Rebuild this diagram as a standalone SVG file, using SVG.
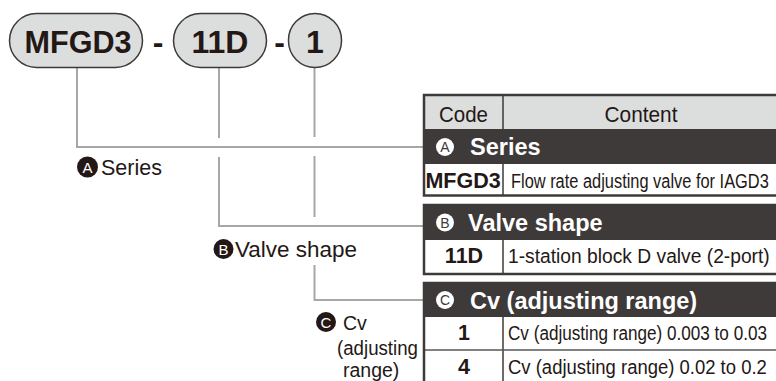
<svg xmlns="http://www.w3.org/2000/svg" width="776" height="381" viewBox="0 0 776 381">
<style>
.pill{fill:#dcdddd;stroke:#3e3a39;stroke-width:1.5}
.pt{font-family:"Liberation Sans",Arial,sans-serif;font-weight:bold;font-size:32px;fill:#231815;text-anchor:middle}
.con{fill:none;stroke:#a7a7a7;stroke-width:2}
.lbl{font-family:"Liberation Sans",Arial,sans-serif;font-size:21.5px;fill:#231815}
.lbl2{font-family:"Liberation Sans",Arial,sans-serif;font-size:19.5px;fill:#231815}
.dc{fill:#231815}
.dl{font-family:"Liberation Sans",Arial,sans-serif;font-size:15px;fill:#fff;text-anchor:middle}
.wc{fill:#fff}
.wl{font-family:"Liberation Sans",Arial,sans-serif;font-size:14px;fill:#3e3a39;text-anchor:middle}
.hd{fill:#dcdddd}
.band{fill:#3e3a39}
.row{fill:#fff}
.border{fill:none;stroke:#3e3a39;stroke-width:2.5}
.div{stroke:#3e3a39;stroke-width:1.5}
.rl{stroke:#595757;stroke-width:1.5}
.ht{font-family:"Liberation Sans",Arial,sans-serif;font-size:22.5px;fill:#231815;text-anchor:middle}
.bt{font-family:"Liberation Sans",Arial,sans-serif;font-size:23.5px;font-weight:bold;fill:#fff}
.ct{font-family:"Liberation Sans",Arial,sans-serif;font-size:21.5px;font-weight:bold;fill:#231815;text-anchor:middle}
.tt{font-family:"Liberation Sans",Arial,sans-serif;font-size:21px;fill:#231815}
</style>

<g id="connectors">
<path class="con" d="M77,68 V147 H423"/>
<path class="con" d="M219,68 V138 M219,157 V226 H423"/>
<path class="con" d="M314.5,68 V137 M314.5,156 V217 M314.5,265 V300 H423"/>
</g>

<g id="node-mfgd3">
<rect class="pill" x="9.5" y="13.5" width="133" height="54" rx="27"/>
<text class="pt" x="78" y="53" textLength="107" lengthAdjust="spacingAndGlyphs">MFGD3</text>
</g>
<g id="dash-1"><text class="pt" x="158" y="53">-</text></g>
<g id="node-11d">
<rect class="pill" x="173.5" y="13.5" width="93" height="54" rx="27"/>
<text class="pt" x="220" y="53">11D</text>
</g>
<g id="dash-2"><text class="pt" x="279.5" y="53">-</text></g>
<g id="node-1">
<rect class="pill" x="288.5" y="13.5" width="53" height="54" rx="26.5"/>
<text class="pt" x="315" y="53">1</text>
</g>

<g id="label-a">
<circle class="dc" cx="87.5" cy="167" r="10.5"/>
<text class="dl" x="87.5" y="172.5">A</text>
<text class="lbl" x="101" y="175">Series</text>
</g>
<g id="label-b">
<circle class="dc" cx="223.5" cy="249" r="10"/>
<text class="dl" x="223.5" y="254.5">B</text>
<text class="lbl" x="235" y="257" textLength="122" lengthAdjust="spacingAndGlyphs">Valve shape</text>
</g>
<g id="label-c">
<circle class="dc" cx="326" cy="322" r="10"/>
<text class="dl" x="326" y="327.5">C</text>
<text class="lbl2" x="343" y="330">Cv</text>
<text class="lbl2" x="337" y="355" textLength="81" lengthAdjust="spacingAndGlyphs">(adjusting</text>
<text class="lbl2" x="343" y="377">range)</text>
</g>

<g id="table-a">
<rect class="hd" x="424" y="95" width="356" height="34"/>
<rect class="band" x="424" y="129" width="356" height="35"/>
<rect class="row" x="424" y="164" width="356" height="31"/>
<line class="div" x1="503" y1="95" x2="503" y2="129"/>
<line class="div" x1="503" y1="164" x2="503" y2="195"/>
<rect class="border" x="424" y="95" width="360" height="100.5"/>
<text class="ht" transform="translate(463.5 122) scale(0.91 1)">Code</text>
<text class="ht" transform="translate(641 122) scale(0.926 1)">Content</text>
<circle class="wc" cx="445" cy="147" r="9"/>
<text class="wl" x="445" y="152">A</text>
<text class="bt" x="470" y="155">Series</text>
<text class="ct" x="463" y="187.5">MFGD3</text>
<text class="tt" transform="translate(511 187.5) scale(0.781 1)">Flow rate adjusting valve for IAGD3</text>
</g>

<g id="table-b">
<rect class="band" x="424" y="205" width="356" height="35"/>
<rect class="row" x="424" y="240" width="356" height="34"/>
<line class="div" x1="503" y1="240" x2="503" y2="274"/>
<rect class="border" x="424" y="205" width="360" height="69"/>
<circle class="wc" cx="445" cy="222.5" r="9"/>
<text class="wl" x="445" y="227.5">B</text>
<text class="bt" x="468" y="231">Valve shape</text>
<text class="ct" x="464" y="262.5">11D</text>
<text class="tt" transform="translate(508 262.5) scale(0.916 1)">1-station block D valve (2-port)</text>
</g>

<g id="table-c">
<rect class="band" x="424" y="283" width="356" height="34"/>
<rect class="row" x="424" y="317" width="356" height="70"/>
<line class="div" x1="503" y1="317" x2="503" y2="385"/>
<line class="rl" x1="424" y1="350" x2="780" y2="350"/>
<rect class="border" x="424" y="283" width="360" height="110"/>
<circle class="wc" cx="445" cy="300" r="9"/>
<text class="wl" x="445" y="305">C</text>
<text class="bt" x="470" y="308.5">Cv (adjusting range)</text>
<text class="ct" x="464" y="340">1</text>
<text class="tt" transform="translate(508 340) scale(0.816 1)">Cv (adjusting range) 0.003 to 0.03</text>
<text class="ct" x="464" y="374">4</text>
<text class="tt" transform="translate(508 374) scale(0.881 1)">Cv (adjusting range) 0.02 to 0.2</text>
</g>
</svg>
